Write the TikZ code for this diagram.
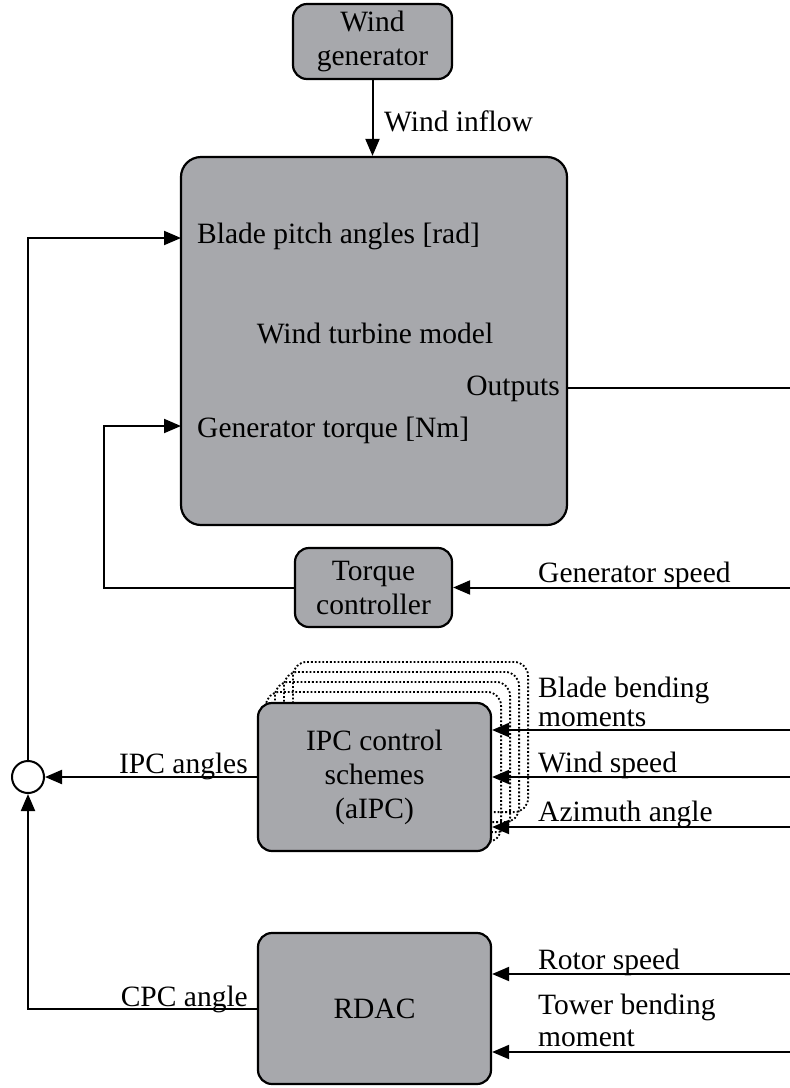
\documentclass[tikz,border=0pt]{standalone}
\usepackage{fontspec}
\setmainfont{Liberation Serif}
\usetikzlibrary{arrows.meta,calc,backgrounds}
\definecolor{boxgray}{RGB}{167,168,172}
\begin{document}
\begin{tikzpicture}[x=1pt,y=-1pt,
  txt/.style={font=\fontsize{29.5}{34}\selectfont},
  block/.style={txt, draw, line width=2.2pt, fill=boxgray, rounded corners=14pt,
                inner sep=0pt, align=center},
  lbl/.style={txt, inner sep=0pt},
  wire/.style={line width=2pt},
  arr/.style={wire, -{Triangle[length=17pt,width=14pt]}},
  ghost/.style={draw, line width=1.8pt, dotted, rounded corners=14pt}]
\useasboundingbox (0,0) rectangle (790,1088);

% blocks
\node[block, minimum width=159pt, minimum height=75pt] (wg) at (372.5,41.5) {Wind\\generator};
\node[block, rounded corners=20pt, minimum width=386pt, minimum height=368pt] (wt) at (374,341) {};
\node[block, minimum width=157pt, minimum height=79pt] (tc) at (373.5,587.5) {Torque\\controller};
\node[block, minimum width=233pt, minimum height=148pt] (ipc) at (374.5,777) {IPC control\\schemes\\(aIPC)};
\node[block, minimum width=233pt, minimum height=151pt] (rdac) at (374.5,1008.5) {RDAC};
\node[draw, circle, line width=2pt, minimum size=32pt, inner sep=0pt, fill=white] (sum) at (28,777) {};

% stacked copies behind the IPC block
\begin{scope}[on background layer]
  \foreach \k in {1,...,4}
    \draw[ghost] ($(ipc.south west)+(9*\k,-10*\k)$) rectangle ($(ipc.north east)+(9*\k,-10*\k)$);
\end{scope}

% texts inside the turbine model
\node[lbl, anchor=base west] (bp) at (197,243) {Blade pitch angles [rad]};
\node[lbl, anchor=base] (wtm) at (375,343) {Wind turbine model};
\node[lbl, anchor=base east] (outs) at (560,395) {Outputs};
\node[lbl, anchor=base west] (gt) at (197,437) {Generator torque [Nm]};

% signal labels
\node[lbl, anchor=base west] (lwi) at (384,131) {Wind inflow};
\node[lbl, anchor=base west] (lgs) at (538,582) {Generator speed};
\node[lbl, anchor=base west] (lbb1) at (538,697) {Blade bending};
\node[lbl, anchor=base west] (lbb2) at (538,726) {moments};
\node[lbl, anchor=base west] (lws) at (538,772) {Wind speed};
\node[lbl, anchor=base west] (laz) at (538,821) {Azimuth angle};
\node[lbl, anchor=base east] (lipc) at (248,773) {IPC angles};
\node[lbl, anchor=base west] (lrs) at (538,969) {Rotor speed};
\node[lbl, anchor=base west] (ltb1) at (538,1014) {Tower bending};
\node[lbl, anchor=base west] (ltb2) at (538,1046) {moment};
\node[lbl, anchor=base east] (lcpc) at (248,1006) {CPC angle};

% connection points
\coordinate (bpIn) at (181,238);
\coordinate (gtIn) at (181,426);
\coordinate (outR) at (790,388);
\coordinate (gsR) at (790,587.5);
\coordinate (bbR) at (790,730);
\coordinate (wsR) at (790,777);
\coordinate (azR) at (790,827);
\coordinate (rsR) at (790,974);
\coordinate (tbR) at (790,1052);

% connectors
\draw[arr] (wg.south) -- (wg.south |- wt.north);
\draw[wire] (outR) -- (outR -| wt.east);
\draw[arr] (gsR) -- (tc.east);
\draw[arr] (tc.west) -- (104,587.5) |- (gtIn);
\draw[arr] (bbR) -- (bbR -| ipc.east);
\draw[arr] (wsR) -- (wsR -| ipc.east);
\draw[arr] (azR) -- (azR -| ipc.east);
\draw[arr] (rsR) -- (rsR -| rdac.east);
\draw[arr] (tbR) -- (tbR -| rdac.east);
\draw[arr] (ipc.west) -- (sum.east);
\draw[arr] (rdac.west) -| (sum.south);
\draw[arr] (sum.north) |- (bpIn);
\end{tikzpicture}
\end{document}
